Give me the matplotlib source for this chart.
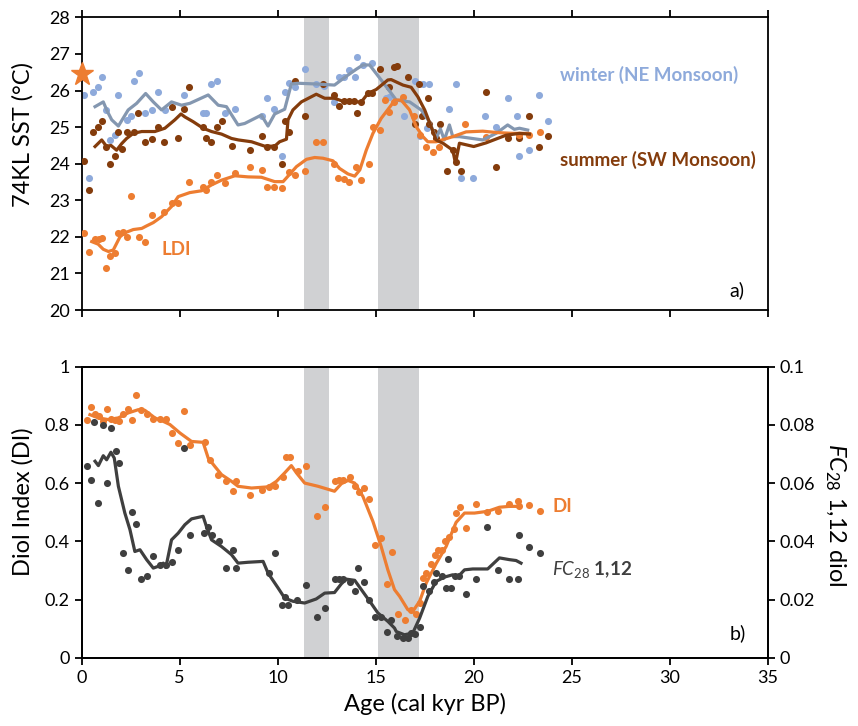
import numpy as np
import matplotlib
matplotlib.use("Agg")
import matplotlib.pyplot as plt
from matplotlib.ticker import FuncFormatter

plt.rcParams['font.family'] = ['Lato', 'DejaVu Sans']
plt.rcParams['mathtext.fontset'] = 'custom'
plt.rcParams['mathtext.rm'] = 'Lato'
plt.rcParams['mathtext.it'] = 'Lato:italic'
plt.rcParams['mathtext.bf'] = 'Lato:bold'

# ---- data ----
# panel a) 74KL SST
win_age = [0.14, 0.38, 0.6, 0.82, 1.06, 1.23, 1.45, 1.7, 1.88, 2.3, 2.52, 2.69, 2.93, 3.23, 3.57, 3.91, 4.25,
           5.23, 6.2, 6.37, 6.59, 6.93, 7.34, 7.85, 9.22, 9.48, 9.82, 10.22, 10.36, 10.57, 10.87, 11.41,
           11.97, 12.36, 12.87, 13.11, 13.38, 13.62, 13.96, 14.06, 14.35, 14.82, 15.54, 15.7, 16.42, 16.98,
           17.24, 17.4, 17.6, 17.71, 18.76, 19.1, 19.36, 19.98, 20.58, 21.14, 21.73, 22.19, 22.29, 22.8,
           23.35, 23.77]
win_sst = [25.88, 23.6, 25.97, 26.1, 26.36, 25.47, 24.65, 24.78, 25.88, 25.2, 25.3, 26.27, 26.49, 25.38, 25.47,
           25.97, 25.47, 25.88, 25.4, 25.4, 26.18, 26.27, 25.4, 25.49, 25.3, 25.79, 25.49, 24.21, 25.97, 26.2,
           26.1, 26.58, 26.18, 26.12, 25.69, 26.36, 26.36, 26.56, 26.36, 26.91, 26.7, 26.76, 25.79, 25.83,
           25.3, 26.27, 24.76, 26.18, 24.97, 26.18, 25.49, 26.18, 23.6, 23.6, 25.3, 25.0, 25.79, 25.3, 24.21,
           24.37, 25.88, 25.18]
win_line_age = [0.69, 1.11, 1.3, 1.54, 1.88, 2.38, 2.81, 3.27, 3.66, 4.08, 4.59, 5.1, 5.52, 6.46, 6.97, 7.39,
                7.98, 8.32, 9.17, 9.51, 9.85, 10.36, 10.7, 11.04, 11.97, 12.9, 13.42, 14.0, 14.35, 14.69, 15.28,
                15.8, 16.05, 16.73, 17.32, 17.74, 18.08, 18.3, 18.5, 18.76, 18.93, 19.27, 20.46, 21.14, 21.73,
                22.07, 22.33, 22.75]
win_line = [25.56, 25.69, 25.45, 25.2, 25.03, 25.47, 25.65, 25.92, 25.69, 25.47, 25.69, 25.6, 25.65, 25.88,
            25.6, 25.56, 25.06, 25.1, 25.33, 25.03, 25.36, 25.49, 26.18, 26.2, 26.18, 26.15, 26.36, 26.58,
            26.7, 26.7, 26.29, 25.92, 25.74, 25.69, 25.47, 25.15, 24.69, 24.95, 24.65, 25.06, 24.74, 24.74,
            24.65, 24.83, 25.06, 24.94, 24.97, 24.92]

sum_age = [0.14, 0.38, 0.6, 0.82, 1.06, 1.23, 1.45, 1.7, 1.88, 2.08, 2.3, 2.69, 2.89, 3.23, 3.57, 3.91, 4.22,
           4.59, 4.9, 5.23, 5.47, 6.2, 6.37, 6.59, 6.93, 7.17, 7.65, 8.58, 9.2, 9.45, 9.82, 10.2, 10.36, 10.57,
           10.87, 11.42, 12.31, 12.88, 13.12, 13.38, 13.62, 13.89, 14.06, 14.27, 14.6, 14.81, 15.2, 15.7,
           15.93, 16.08, 16.64, 16.98, 17.2, 17.37, 17.66, 17.74, 17.95, 18.08, 18.29, 18.63, 18.93, 19.1,
           19.36, 20.6, 21.14, 21.73, 22.3, 22.8, 23.35, 23.77]
sum_sst = [24.08, 23.28, 24.88, 25.0, 25.18, 24.47, 23.99, 24.21, 24.88, 24.39, 24.88, 24.88, 25.4, 24.6, 24.67,
           25.0, 24.6, 25.56, 24.69, 25.49, 26.1, 25.0, 24.69, 24.6, 25.0, 25.18, 24.48, 24.38, 24.77, 24.47,
           24.47, 23.99, 25.18, 24.88, 26.27, 25.3, 26.19, 25.88, 25.57, 25.72, 25.72, 25.72, 25.4, 25.69,
           25.94, 25.94, 26.58, 26.1, 26.65, 26.67, 26.36, 25.08, 26.18, 25.3, 25.79, 25.08, 24.88, 24.69,
           25.08, 23.81, 24.37, 24.06, 23.81, 25.97, 23.9, 24.69, 24.69, 25.3, 24.47, 24.77]
sum_line_age = [0.69, 1.03, 1.28, 1.5, 1.79, 2.05, 2.3, 2.64, 3.07, 3.74, 4.25, 4.76, 5.07, 5.27, 5.69, 6.2,
                6.63, 7.14, 7.65, 8.0, 8.67, 9.34, 9.85, 10.1, 10.45, 10.53, 10.78, 11.21, 11.97, 12.4, 12.9,
                13.42, 14.27, 14.6, 15.03, 15.62, 15.79, 16.39, 16.81, 17.15, 17.5, 17.83, 18.08, 18.43, 18.93,
                19.07, 19.27, 20.0, 20.63, 21.65, 22.33, 22.84]
sum_line = [24.47, 24.65, 24.47, 24.5, 24.37, 24.55, 24.69, 24.83, 24.88, 24.88, 24.97, 25.2, 25.36, 25.28,
            25.15, 24.97, 24.88, 24.81, 24.69, 24.65, 24.6, 24.48, 24.48, 24.6, 24.67, 25.2, 25.47, 25.69,
            25.9, 25.79, 25.79, 25.69, 25.69, 25.92, 26.03, 26.29, 26.3, 26.15, 26.09, 25.83, 25.47, 25.01,
            24.65, 24.56, 24.37, 24.01, 24.56, 24.47, 24.57, 24.78, 24.83, 24.81]

ldi_age = [0.14, 0.38, 0.69, 0.9, 1.06, 1.23, 1.45, 1.7, 1.88, 2.1, 2.3, 2.52, 2.93, 3.23, 3.57, 4.22, 4.59,
           4.9, 5.47, 6.2, 6.37, 6.59, 6.93, 7.34, 7.85, 8.58, 9.21, 9.47, 9.81, 10.21, 10.57, 10.87, 11.42,
           11.97, 12.33, 12.9, 13.1, 13.38, 13.62, 14.01, 14.27, 14.64, 14.86, 15.2, 15.5, 15.7, 15.93, 16.39,
           16.97, 17.24, 17.58, 17.91, 18.22, 19.53, 20.63, 22.33, 22.8, 23.38]
ldi_sst = [22.1, 21.58, 21.93, 21.95, 21.96, 21.14, 21.48, 21.55, 22.1, 22.12, 22.0, 23.12, 22.0, 21.87, 22.6,
           22.69, 22.92, 22.93, 23.51, 23.37, 23.28, 23.51, 23.69, 23.46, 23.75, 23.91, 23.82, 23.37, 23.37,
           23.33, 23.76, 23.68, 23.81, 24.6, 24.6, 23.99, 23.6, 23.57, 23.51, 23.92, 23.55, 23.99, 25.0,
           24.92, 25.74, 25.42, 25.69, 25.83, 25.3, 24.78, 24.47, 24.33, 24.47, 25.08, 24.72, 24.78, 24.78,
           24.87]
ldi_line_age = [0.52, 0.85, 1.11, 1.37, 1.62, 1.79, 1.96, 2.21, 2.64, 3.07, 3.32, 3.66, 4.08, 4.59, 4.93, 5.52,
                6.12, 6.63, 7.14, 7.82, 8.49, 9.17, 9.85, 10.28, 10.53, 10.96, 11.47, 11.89, 12.31, 12.82, 13.16,
                13.59, 13.93, 14.19, 14.52, 14.86, 15.28, 15.79, 15.96, 16.3, 16.73, 17.07, 17.41, 17.66, 18.08,
                18.93, 19.61, 20.46, 21.22, 21.99, 22.75]
ldi_line = [21.87, 21.8, 21.66, 21.6, 21.64, 21.82, 22.0, 22.11, 22.2, 22.23, 22.3, 22.39, 22.55, 22.83, 23.1,
            23.21, 23.26, 23.42, 23.55, 23.67, 23.64, 23.63, 23.51, 23.51, 23.66, 23.92, 24.12, 24.17, 24.15,
            24.08, 23.87, 23.72, 23.66, 23.83, 24.37, 24.83, 25.24, 25.6, 25.74, 25.74, 25.47, 25.01, 24.74,
            24.6, 24.6, 24.74, 24.87, 24.89, 24.85, 24.83, 24.83]
star_age, star_sst = 0.0, 26.45

# panel b) diol index and FC28 1,12 diol
di_age = [0.26, 0.48, 0.69, 0.89, 1.11, 1.28, 1.5, 1.7, 1.91, 2.13, 2.38, 2.56, 2.76, 3.03, 3.32, 3.66, 4.0,
          4.29, 4.59, 4.93, 5.23, 5.52, 6.29, 6.54, 6.97, 7.39, 7.73, 7.9, 8.6, 9.21, 9.55, 9.87, 10.26, 10.41,
          10.62, 11.04, 11.47, 12.02, 12.4, 12.93, 13.11, 13.33, 13.67, 13.96, 14.13, 14.4, 14.64, 14.94,
          15.28, 15.57, 15.82, 16.13, 16.47, 16.81, 17.07, 17.24, 17.41, 17.58, 17.83, 18.0, 18.17, 18.4,
          18.56, 18.76, 18.97, 19.1, 19.31, 19.58, 20.12, 20.66, 21.22, 21.78, 22.24, 22.29, 22.84, 23.38]
di_val = [0.815, 0.861, 0.838, 0.832, 0.812, 0.855, 0.82, 0.815, 0.812, 0.838, 0.855, 0.815, 0.904, 0.85,
          0.838, 0.82, 0.82, 0.82, 0.772, 0.738, 0.846, 0.732, 0.74, 0.678, 0.629, 0.606, 0.572, 0.606, 0.56,
          0.577, 0.588, 0.59, 0.622, 0.688, 0.688, 0.64, 0.66, 0.488, 0.517, 0.606, 0.612, 0.609, 0.621,
          0.591, 0.568, 0.583, 0.545, 0.388, 0.411, 0.252, 0.362, 0.151, 0.131, 0.165, 0.151, 0.188, 0.274,
          0.291, 0.323, 0.354, 0.369, 0.37, 0.4, 0.415, 0.442, 0.497, 0.518, 0.446, 0.528, 0.499, 0.503,
          0.528, 0.54, 0.522, 0.523, 0.505]
di_line_age = [0.43, 0.86, 1.37, 1.88, 2.38, 2.89, 3.23, 3.74, 4.17, 4.51, 5.02, 5.61, 6.2, 6.46, 6.8, 7.14,
               7.65, 7.98, 8.67, 9.51, 9.94, 10.36, 10.7, 10.96, 11.38, 12.06, 12.9, 13.25, 13.59, 13.93, 14.35,
               14.86, 15.28, 15.62, 15.96, 16.22, 16.64, 16.89, 17.24, 17.58, 18.08, 18.59, 19.1, 19.53, 20.04,
               20.71, 21.31, 21.82, 22.33]
di_line = [0.835, 0.824, 0.818, 0.824, 0.841, 0.852, 0.85, 0.824, 0.812, 0.801, 0.772, 0.743, 0.74, 0.686,
           0.657, 0.629, 0.606, 0.589, 0.583, 0.587, 0.606, 0.635, 0.66, 0.635, 0.6, 0.589, 0.572, 0.598,
           0.609, 0.6, 0.554, 0.468, 0.382, 0.302, 0.234, 0.211, 0.165, 0.159, 0.194, 0.257, 0.323, 0.382,
           0.465, 0.497, 0.497, 0.503, 0.517, 0.52, 0.52]

fc_age = [0.26, 0.48, 0.65, 0.86, 1.11, 1.28, 1.5, 1.74, 1.91, 2.13, 2.38, 2.56, 2.76, 3.03, 3.32, 3.66, 4.0,
          4.29, 4.59, 4.93, 5.23, 5.52, 6.25, 6.46, 6.63, 7.0, 7.39, 7.73, 7.9, 9.56, 9.85, 10.24, 10.4, 10.53,
          10.99, 11.47, 12.01, 12.4, 12.93, 13.11, 13.33, 13.67, 13.96, 14.09, 14.4, 14.64, 14.94, 15.28,
          15.57, 15.79, 16.08, 16.39, 16.64, 16.81, 16.99, 17.24, 17.41, 17.71, 17.95, 18.08, 18.39, 18.59,
          18.68, 18.83, 19.05, 19.26, 19.58, 20.12, 20.66, 21.22, 21.78, 22.24, 22.33, 22.84, 23.38]
fc_val = [0.066, 0.061, 0.081, 0.053, 0.080, 0.060, 0.079, 0.071, 0.067, 0.036, 0.030, 0.050, 0.046, 0.027,
          0.028, 0.035, 0.032, 0.032, 0.033, 0.037, 0.072, 0.042, 0.043, 0.045, 0.042, 0.040, 0.031, 0.037,
          0.031, 0.029, 0.036, 0.018, 0.021, 0.018, 0.020, 0.025, 0.014, 0.017, 0.027, 0.027, 0.027, 0.026,
          0.023, 0.031, 0.026, 0.020, 0.014, 0.014, 0.0087, 0.013, 0.0076, 0.0068, 0.0068, 0.0085, 0.008,
          0.0105, 0.0245, 0.023, 0.026, 0.029, 0.028, 0.024, 0.034, 0.024, 0.028, 0.028, 0.022, 0.027, 0.045,
          0.030, 0.027, 0.027, 0.042, 0.038, 0.036]
fc_line_age = [0.69, 0.86, 1.11, 1.28, 1.5, 1.67, 1.88, 2.21, 2.47, 2.72, 2.98, 3.32, 3.66, 3.91, 4.17, 4.3,
               4.59, 4.93, 5.27, 5.61, 6.2, 6.37, 6.63, 7.14, 7.65, 7.98, 8.49, 9.26, 9.51, 10.02, 10.36, 10.78,
               11.38, 11.97, 12.4, 12.9, 13.25, 13.5, 13.93, 14.27, 14.78, 15.11, 15.62, 15.96, 16.05, 16.47,
               16.89, 17.24, 17.66, 18.08, 18.5, 18.93, 19.18, 19.53, 19.95, 20.71, 21.31, 21.82, 22.16, 22.41]
fc_line = [0.0675, 0.066, 0.0694, 0.068, 0.0706, 0.0686, 0.0589, 0.0497, 0.044, 0.0365, 0.0371, 0.0337,
           0.0308, 0.0314, 0.0325, 0.031, 0.0405, 0.0428, 0.0457, 0.0477, 0.0486, 0.0451, 0.0405, 0.0382,
           0.0354, 0.0325, 0.0328, 0.0331, 0.0291, 0.024, 0.0205, 0.0194, 0.0188, 0.0202, 0.0222, 0.0224,
           0.0254, 0.027, 0.0266, 0.0234, 0.0186, 0.0154, 0.0125, 0.0102, 0.009, 0.0079, 0.0085, 0.0136,
           0.0211, 0.0262, 0.0277, 0.0285, 0.0277, 0.0302, 0.0305, 0.0305, 0.0343, 0.0337, 0.0334, 0.0325]

bands = [(11.35, 12.6), (15.1, 17.2)]

c_win_dot = '#8EAADB'
c_win_line = '#8497B0'
c_sum = '#843C0C'
c_ldi = '#ED7D31'
c_fc = '#3F3F3F'
c_band = '#D0D1D3'

fig = plt.figure(figsize=(8.58, 7.26), dpi=100)
ax1 = fig.add_axes([0.095, 0.573, 0.800, 0.403])
ax2 = fig.add_axes([0.095, 0.094, 0.800, 0.401])
ax2r = ax2.twinx()

dot = 26
lw = 2.3
tick_fs = 13
lab_fs = 17
ann_fs = 13.5

for a in (ax1, ax2):
    for b0, b1 in bands:
        a.axvspan(b0, b1, color=c_band, lw=0, zorder=0)
    a.set_xlim(0, 35)
    a.set_xticks(range(0, 36, 5))
    for s in a.spines.values():
        s.set_linewidth(1.3)
    a.tick_params(direction='out', length=5, width=1.3, labelsize=tick_fs)

# panel a
ax1.scatter(win_age, win_sst, s=dot, color=c_win_dot, lw=0, zorder=2)
ax1.scatter(sum_age, sum_sst, s=dot, color=c_sum, lw=0, zorder=3)
ax1.scatter(ldi_age, ldi_sst, s=dot, color=c_ldi, lw=0, zorder=3)
ax1.plot(win_line_age, win_line, color=c_win_line, lw=lw, zorder=4)
ax1.plot(sum_line_age, sum_line, color=c_sum, lw=lw, zorder=5)
ax1.plot(ldi_line_age, ldi_line, color=c_ldi, lw=lw, zorder=4)
ax1.plot([star_age], [star_sst], marker='*', ms=17, color=c_ldi, mec=c_ldi, clip_on=False, zorder=6)
ax1.set_ylim(20, 28)
ax1.set_yticks(range(20, 29))
ax1.tick_params(axis='x', top=True, labelbottom=False)
ax1.set_ylabel('74KL SST (°C)', fontsize=lab_fs)
ax1.yaxis.set_label_coords(-0.07, 0.6)
ax1.text(24.4, 26.42, 'winter (NE Monsoon)', color=c_win_dot, fontsize=ann_fs, fontweight='bold', va='center')
ax1.text(24.4, 24.1, 'summer (SW Monsoon)', color=c_sum, fontsize=ann_fs, fontweight='bold', va='center')
ax1.text(4.1, 21.65, 'LDI', color=c_ldi, fontsize=ann_fs, fontweight='bold', va='center')
ax1.text(33.8, 20.55, 'a)', fontsize=tick_fs + 1, ha='right', va='center')

# panel b
ax2.scatter(di_age, di_val, s=dot, color=c_ldi, lw=0, zorder=3)
ax2.plot(di_line_age, di_line, color=c_ldi, lw=lw, zorder=4)
ax2r.scatter(fc_age, fc_val, s=dot, color=c_fc, lw=0, zorder=3)
ax2r.plot(fc_line_age, fc_line, color=c_fc, lw=lw, zorder=4)
ax2.set_ylim(0, 1)
ax2r.set_ylim(0, 0.1)
ax2.set_yticks([0, 0.2, 0.4, 0.6, 0.8, 1.0])
ax2r.set_yticks([0, 0.02, 0.04, 0.06, 0.08, 0.1])
ax2.yaxis.set_major_formatter(FuncFormatter(lambda v, p: ('%.1f' % v).rstrip('0').rstrip('.') if v else '0'))
ax2r.yaxis.set_major_formatter(FuncFormatter(lambda v, p: ('%.2f' % v).rstrip('0').rstrip('.') if v else '0'))
ax2r.tick_params(direction='out', length=5, width=1.3, labelsize=tick_fs)
for s in ax2r.spines.values():
    s.set_linewidth(1.3)
ax2.set_ylabel('Diol Index (DI)', fontsize=lab_fs)
ax2.yaxis.set_label_coords(-0.07, 0.535)
ax2r.set_ylabel('$\\mathit{FC}_{28}$ 1,12 diol', fontsize=lab_fs, rotation=270)
ax2r.yaxis.set_label_coords(1.116, 0.49)
ax2.set_xlabel('Age (cal kyr BP)', fontsize=lab_fs, labelpad=5)
ax2.text(24.0, 0.52, 'DI', color=c_ldi, fontsize=ann_fs, fontweight='bold', va='center')
ax2.text(24.0, 0.302, '$\\mathit{FC}_{28}$ 1,12', color=c_fc, fontsize=ann_fs, fontweight='bold',
         va='center')
ax2.text(33.9, 0.085, 'b)', fontsize=tick_fs + 1, ha='right', va='center')

fig.savefig('out.png', dpi=100)
